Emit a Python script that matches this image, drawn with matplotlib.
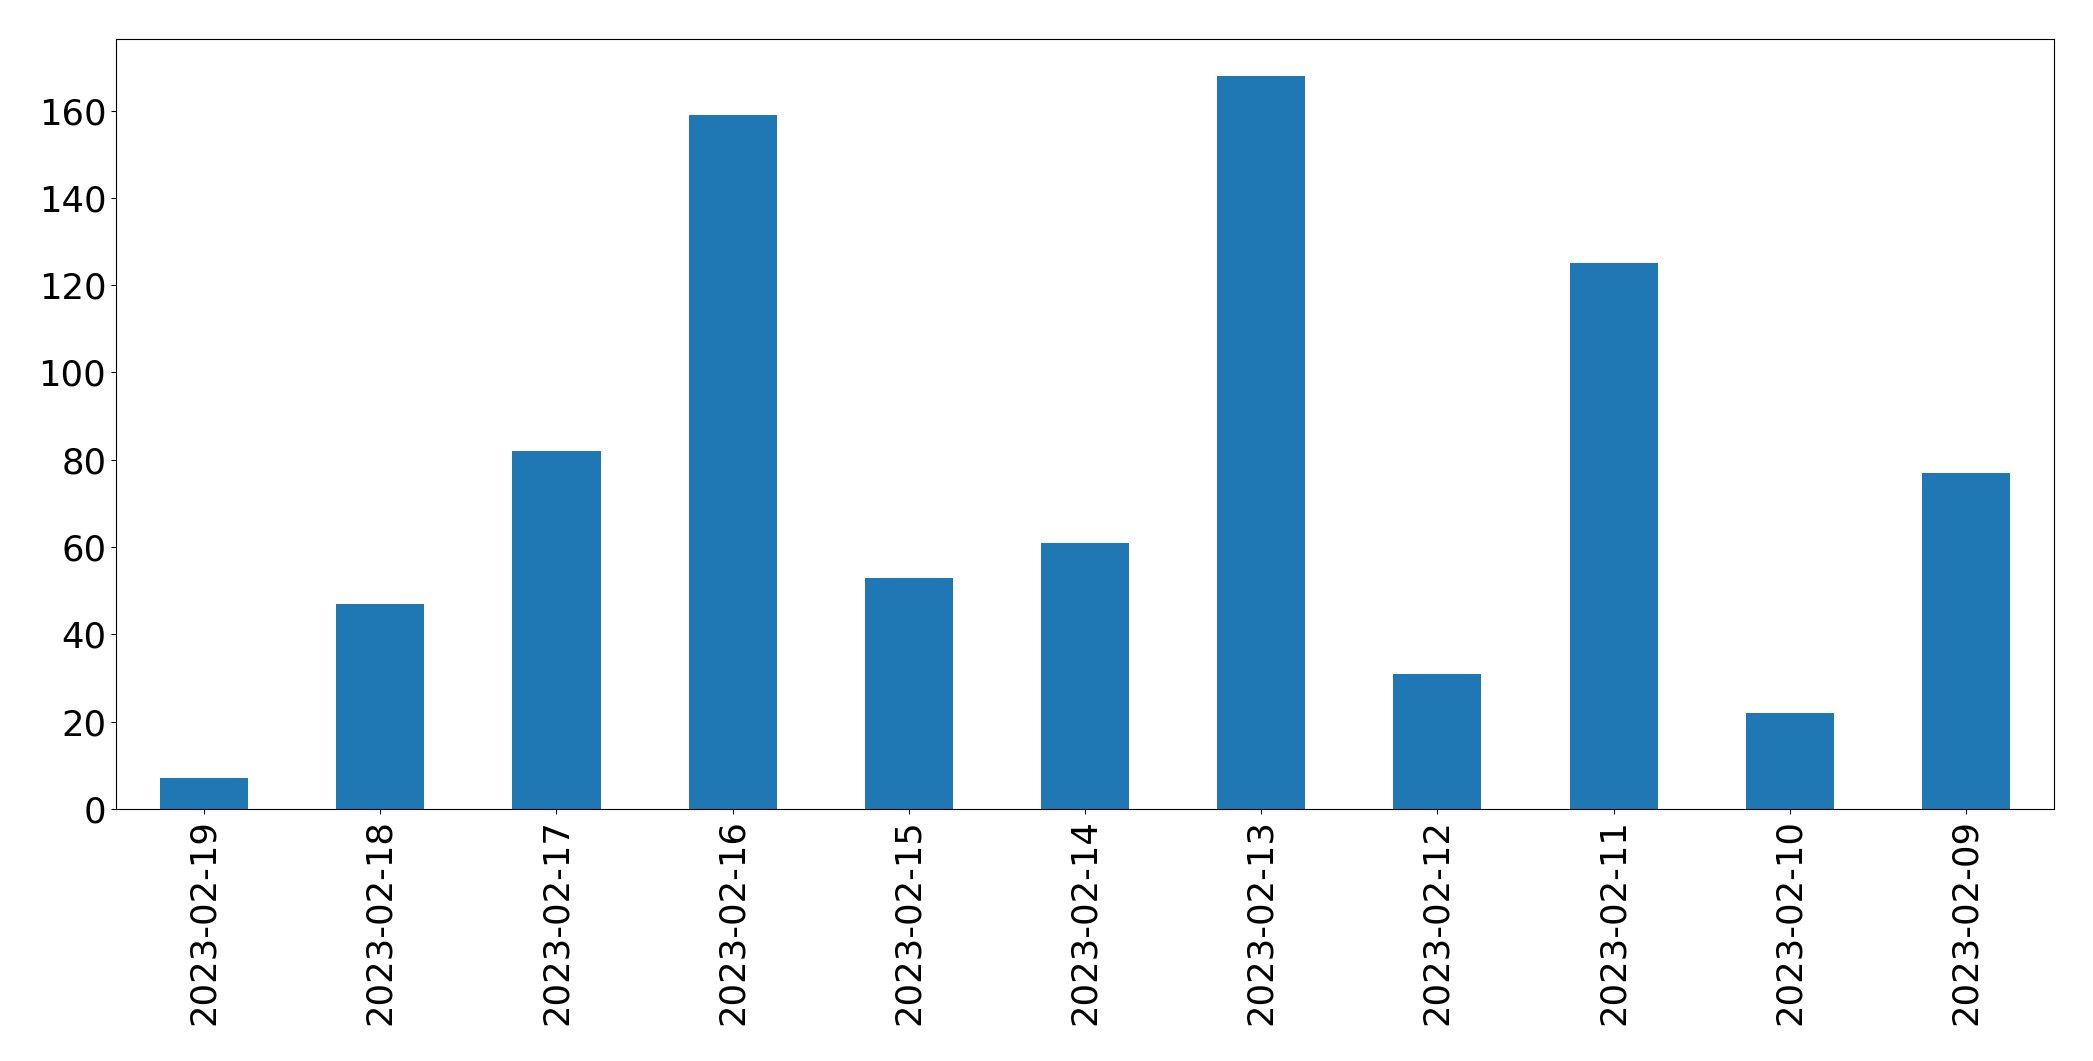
import matplotlib
matplotlib.use('Agg')
import matplotlib.pyplot as plt
import pandas as pd

dates = ['2023-02-19', '2023-02-18', '2023-02-17', '2023-02-16', '2023-02-15', '2023-02-14',
         '2023-02-13', '2023-02-12', '2023-02-11', '2023-02-10', '2023-02-09']
counts = [7, 47, 82, 159, 53, 61, 168, 31, 125, 22, 77]

data = pd.Series(counts, index=dates)

fig = plt.figure(figsize=(20.93, 10.61), dpi=100)
ax = fig.add_axes([116 / 2093, 1 - 809 / 1061, (2054 - 116) / 2093, (809 - 39) / 1061])
data.plot(kind='bar', ax=ax, color='#1f77b4')
ax.tick_params(axis='both', labelsize=25.5)

plt.savefig('out.png', dpi=100)
